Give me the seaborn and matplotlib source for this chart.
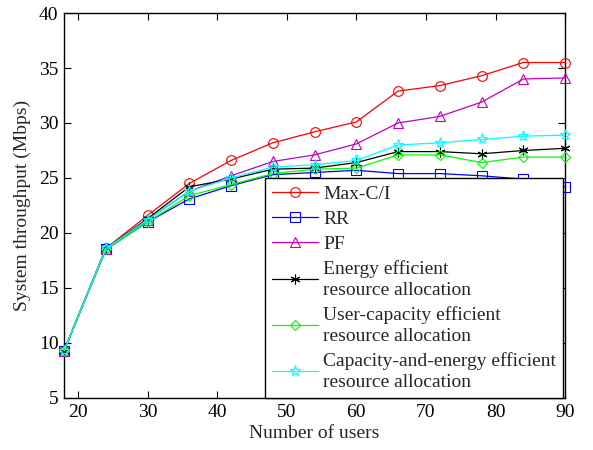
import numpy as np
import pandas as pd
import matplotlib
matplotlib.use("Agg")
import matplotlib.pyplot as plt
import seaborn as sns

users = [18, 24, 30, 36, 42, 48, 54, 60, 66, 72, 78, 84, 90]
max_ci = [9.3, 18.6, 21.6, 24.5, 26.6, 28.2, 29.2, 30.1, 32.9, 33.4, 34.3, 35.5, 35.5]
rr = [9.3, 18.5, 21.0, 23.1, 24.3, 25.3, 25.5, 25.7, 25.4, 25.4, 25.2, 24.9, 24.2]
pf = [9.3, 18.5, 21.2, 23.8, 25.2, 26.5, 27.1, 28.1, 30.0, 30.6, 31.9, 34.0, 34.1]
energy = [9.3, 18.6, 21.3, 24.2, 24.9, 25.8, 25.9, 26.4, 27.4, 27.4, 27.2, 27.5, 27.7]
user_cap = [9.3, 18.5, 21.0, 23.4, 24.4, 25.4, 25.8, 25.9, 27.1, 27.1, 26.4, 26.9, 26.9]
cap_energy = [9.3, 18.6, 21.2, 23.8, 25.0, 26.0, 26.2, 26.6, 28.0, 28.2, 28.5, 28.8, 28.9]

labels = ["Max-C/I", "RR", "PF",
          "Energy efficient\nresource allocation",
          "User-capacity efficient\nresource allocation",
          "Capacity-and-energy efficient\nresource allocation"]
series = [max_ci, rr, pf, energy, user_cap, cap_energy]
colors = ["#FF0000", "#0000FF", "#BF00BF", "#000000", "#00FF00", "#00FFFF"]
markers = ["o", "s", "^", (6, 2, 0), "D", "*"]
msizes = [7, 6.5, 7.5, 7, 5.5, 8]

sns.set_style("ticks")
plt.rcParams["font.family"] = ["Liberation Serif", "DejaVu Serif"]

fig = plt.figure(figsize=(5.93, 4.5), dpi=100)
ax = fig.add_axes([0.108, 0.1156, 0.845, 0.8555])

for lab, ys, c, m, ms in zip(labels, series, colors, markers, msizes):
    df = pd.DataFrame({"x": users, "y": ys})
    sns.lineplot(data=df, x="x", y="y", ax=ax, color=c, marker=m,
                 markersize=ms, markerfacecolor="none", markeredgecolor=c,
                 markeredgewidth=0.8, linewidth=0.9, label=lab, clip_on=False)

ax.set_xlim(18, 90)
ax.set_ylim(5, 40)
ax.set_xticks(np.arange(20, 91, 10))
ax.set_yticks(np.arange(5, 41, 5))
ax.tick_params(direction="in", top=True, right=True, labelsize=14,
               length=5, width=0.8, colors="black", pad=4)
for s in ax.spines.values():
    s.set_visible(True)
    s.set_linewidth(1.0)
    s.set_color("black")
    s.set_zorder(1)
ax.set_xlabel("Number of users", fontsize=14, labelpad=3)
ax.set_ylabel("System throughput (Mbps)", fontsize=14, labelpad=6)

leg = ax.legend(loc="lower right", bbox_to_anchor=(0.996, 0.0), borderaxespad=0,
                fontsize=14, frameon=True, fancybox=False, edgecolor="black",
                framealpha=1, handlelength=2.4, handletextpad=0.25,
                labelspacing=0.38, borderpad=0.35)
leg.get_frame().set_linewidth(1.0)
for t in leg.get_texts():
    t.set_linespacing(1.3)

fig.savefig("out.png", dpi=100)
